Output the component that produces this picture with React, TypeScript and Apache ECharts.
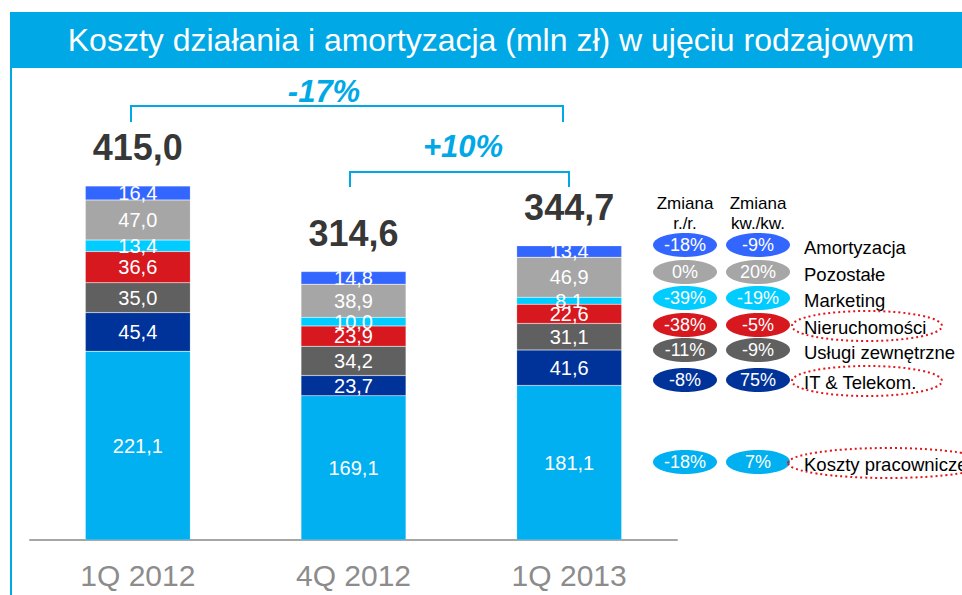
import React, { useEffect, useRef } from "react";
import * as echarts from "echarts";

const categories = ["1Q 2012", "4Q 2012", "1Q 2013"];
const seriesNames = [
  "Koszty pracownicze",
  "IT & Telekom.",
  "Usługi zewnętrzne",
  "Nieruchomości",
  "Marketing",
  "Pozostałe",
  "Amortyzacja",
];
const kosztyPracownicze = [221.1, 169.1, 181.1];
const itTelekom = [45.4, 23.7, 41.6];
const uslugiZewnetrzne = [35.0, 34.2, 31.1];
const nieruchomosci = [36.6, 23.9, 22.6];
const marketing = [13.4, 10.0, 8.1];
const pozostale = [47.0, 38.9, 46.9];
const amortyzacja = [16.4, 14.8, 13.4];
const totals = [415.0, 314.6, 344.7];

// table on the right (top-to-bottom order)
const tableRows = [
  "Amortyzacja",
  "Pozostałe",
  "Marketing",
  "Nieruchomości",
  "Usługi zewnętrzne",
  "IT & Telekom.",
  "Koszty pracownicze",
];
const changeYoY = ["-18%", "0%", "-39%", "-38%", "-11%", "-8%", "-18%"];
const changeQoQ = ["-9%", "20%", "-19%", "-5%", "-9%", "75%", "7%"];
const highlighted = ["Nieruchomości", "IT & Telekom.", "Koszty pracownicze"];

const COLORS: Record<string, string> = {
  "Koszty pracownicze": "#00B0F0",
  "IT & Telekom.": "#003399",
  "Usługi zewnętrzne": "#606060",
  "Nieruchomości": "#D7181F",
  "Marketing": "#00CCFF",
  "Pozostałe": "#A6A6A6",
  "Amortyzacja": "#3366FF",
};
const BLUE = "#00A8E6";
const FONT = '"Liberation Sans", Arial, sans-serif';

const fmt = (v: number) => v.toFixed(1).replace(".", ",");

export default function App() {
  const ref = useRef<HTMLDivElement>(null);
  useEffect(() => {
    if (!ref.current) return;
    const chart = echarts.init(ref.current, null, { renderer: "svg" });
    const values = [
      kosztyPracownicze,
      itTelekom,
      uslugiZewnetrzne,
      nieruchomosci,
      marketing,
      pozostale,
      amortyzacja,
    ];
    const barSeries = seriesNames.map((name, i) => ({
      name,
      type: "bar",
      stack: "total",
      barWidth: 105,
      data: values[i],
      itemStyle: { color: COLORS[name], borderColor: "rgba(255,255,255,0.35)", borderWidth: 0.5 },
      label: {
        show: true,
        position: "inside",
        color: "#fff",
        fontSize: 20,
        fontFamily: FONT,
        formatter: (p: any) => fmt(p.value),
      },
      emphasis: { disabled: true },
    }));

    const rowY = [245, 272, 298, 325, 350, 380, 462];
    const colX = [685, 758];
    const graphic: any[] = [
      { type: "rect", shape: { x: 10, y: 12, width: 952, height: 56 }, style: { fill: BLUE } },
      { type: "rect", shape: { x: 10, y: 68, width: 2, height: 527 }, style: { fill: BLUE } },
      {
        type: "text",
        x: 491,
        y: 40,
        style: {
          text: "Koszty działania i amortyzacja (mln zł) w ujęciu rodzajowym",
          fill: "#fff",
          font: `32px ${FONT}`,
          textAlign: "center",
          textVerticalAlign: "middle",
        },
      },
      {
        type: "polyline",
        shape: { points: [[131, 122], [131, 106], [563, 106], [563, 122]] },
        style: { stroke: BLUE, lineWidth: 2, fill: "none" },
      },
      {
        type: "polyline",
        shape: { points: [[350, 187], [350, 172], [569, 172], [569, 187]] },
        style: { stroke: BLUE, lineWidth: 2, fill: "none" },
      },
      {
        type: "text",
        x: 324,
        y: 91,
        style: {
          text: "-17%",
          fill: BLUE,
          font: `italic bold 31px ${FONT}`,
          textAlign: "center",
          textVerticalAlign: "middle",
        },
      },
      {
        type: "text",
        x: 463,
        y: 146,
        style: {
          text: "+10%",
          fill: BLUE,
          font: `italic bold 31px ${FONT}`,
          textAlign: "center",
          textVerticalAlign: "middle",
        },
      },
      {
        type: "text",
        x: colX[0],
        y: 213,
        style: {
          text: "Zmiana\nr./r.",
          fill: "#000",
          font: `17px ${FONT}`,
          lineHeight: 20,
          textAlign: "center",
          textVerticalAlign: "middle",
        },
      },
      {
        type: "text",
        x: colX[1],
        y: 213,
        style: {
          text: "Zmiana\nkw./kw.",
          fill: "#000",
          font: `17px ${FONT}`,
          lineHeight: 20,
          textAlign: "center",
          textVerticalAlign: "middle",
        },
      },
    ];
    tableRows.forEach((name, i) => {
      const y = rowY[i];
      [changeYoY[i], changeQoQ[i]].forEach((t, j) => {
        graphic.push({
          type: "ellipse",
          shape: { cx: colX[j], cy: y, rx: 32, ry: 12 },
          style: { fill: COLORS[name] },
        });
        graphic.push({
          type: "text",
          x: colX[j],
          y: y,
          style: {
            text: t,
            fill: "#fff",
            font: `18px ${FONT}`,
            textAlign: "center",
            textVerticalAlign: "middle",
          },
        });
      });
      if (highlighted.includes(name)) {
        const wide = name === "Koszty pracownicze";
        graphic.push({
          type: "ellipse",
          shape: { cx: wide ? 888 : 867, cy: y + 1, rx: wide ? 100 : 75, ry: 15 },
          style: { fill: "none", stroke: "#E3151B", lineWidth: 2, lineDash: [2, 3] },
        });
      }
      graphic.push({
        type: "text",
        x: 804,
        y: y + 2,
        style: {
          text: name,
          fill: "#000",
          font: `18.5px ${FONT}`,
          textAlign: "left",
          textVerticalAlign: "middle",
        },
      });
    });

    chart.setOption({
      animation: false,
      grid: { left: 30, width: 647, top: 156, bottom: 55 },
      xAxis: {
        type: "category",
        data: categories,
        axisLine: { lineStyle: { color: "#A6A6A6", width: 2 } },
        axisTick: { length: 9, lineStyle: { color: "#A6A6A6", width: 2 } },
        axisLabel: { color: "#8C8C8C", fontSize: 30, fontFamily: FONT, margin: 20 },
      },
      yAxis: { type: "value", min: 0, max: 450, show: false, splitLine: { show: false } },
      series: [
        ...barSeries,
        {
          name: "Suma",
          type: "scatter",
          symbolSize: 1,
          itemStyle: { color: "rgba(0,0,0,0)" },
          data: totals.map((t, i) => [i, t]),
          label: {
            show: true,
            position: "top",
            distance: 20,
            color: "#000",
            fontSize: 36,
            fontWeight: "bold",
            fontFamily: FONT,
            formatter: (p: any) => fmt(p.value[1]),
          },
          emphasis: { disabled: true },
          z: 5,
        },
      ],
      graphic,
    });
    return () => chart.dispose();
  }, []);
  return (
    <div
      ref={ref}
      style={{ position: "fixed", left: 0, top: 0, width: 962, height: 595, background: "#fff" }}
    />
  );
}
